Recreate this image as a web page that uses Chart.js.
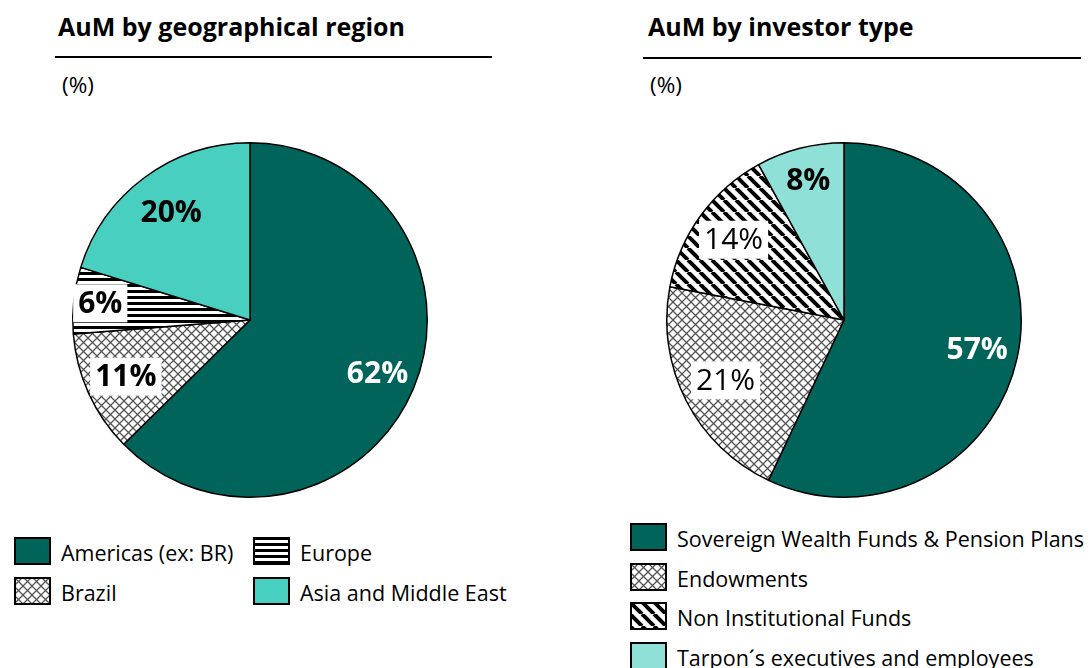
<!DOCTYPE html>
<html><head><meta charset="utf-8">
<script src="https://cdn.jsdelivr.net/npm/chart.js@4.4.0/dist/chart.umd.min.js"></script>
<style>
body{margin:0;width:1091px;height:668px;background:#fff;position:relative;overflow:hidden;font-family:"Open Sans",Lato,sans-serif;color:#000}
.title{position:absolute;font-weight:bold;font-size:25px;line-height:1}
.rule{position:absolute;height:2px;background:#000}
.unit{position:absolute;font-size:22.5px;line-height:1}
.leg{position:absolute;display:flex;align-items:center;font-size:21.5px;white-space:nowrap;line-height:1}
.leg canvas{display:block;margin-right:10px}
.leg span{position:relative;top:2px}
canvas.pie{position:absolute}
</style>
</head><body>
<div class="title" style="left:58px;top:14px">AuM by geographical region</div>
<div class="rule" style="left:55px;top:56px;width:437px"></div>
<div class="unit" style="left:62px;top:74px">(%)</div>

<div class="title" style="left:648px;top:14px">AuM by investor type</div>
<div class="rule" style="left:643px;top:57px;width:438px"></div>
<div class="unit" style="left:650px;top:74px">(%)</div>

<canvas id="c1" class="pie" width="360" height="360" style="left:70px;top:140px"></canvas>
<canvas id="c2" class="pie" width="360" height="360" style="left:664px;top:140px"></canvas>

<div id="legend1"></div>
<div id="legend2"></div>

<script>
// ---- data ----
const regionLabels = ['Americas (ex: BR)', 'Brazil', 'Europe', 'Asia and Middle East'];
const regionValues = [62, 11, 6, 20];
const investorLabels = ['Sovereign Wealth Funds & Pension Plans', 'Endowments', 'Non Institutional Funds', 'Tarpon\u00B4s executives and employees'];
const investorValues = [57, 21, 14, 8];

// ---- styles ----
const DARK = '#00645A';
const TEAL = '#48CFBF';
const LIGHT = '#8FE0D6';

function makePattern(kind) {
  const c = document.createElement('canvas');
  const ctx = c.getContext('2d');
  if (kind === 'cross') {
    c.width = 9; c.height = 9;
    ctx.fillStyle = '#fff'; ctx.fillRect(0, 0, 9, 9);
    ctx.strokeStyle = '#555'; ctx.lineWidth = 1.3;
    ctx.beginPath();
    ctx.moveTo(0, 0); ctx.lineTo(9, 9);
    ctx.moveTo(9, 0); ctx.lineTo(0, 9);
    ctx.stroke();
  } else if (kind === 'hstripe') {
    c.width = 6; c.height = 6;
    ctx.fillStyle = '#fff'; ctx.fillRect(0, 0, 6, 6);
    ctx.fillStyle = '#000'; ctx.fillRect(0, 0, 6, 3);
  } else if (kind === 'dstripe') {
    c.width = 12; c.height = 12;
    ctx.fillStyle = '#fff'; ctx.fillRect(0, 0, 12, 12);
    ctx.strokeStyle = '#000'; ctx.lineWidth = 4;
    ctx.beginPath();
    for (const k of [-12, 0, 12]) { ctx.moveTo(k, 0); ctx.lineTo(k + 12, 12); }
    ctx.stroke();
  }
  return c;
}
function pat(kind, ctx) { return ctx.createPattern(makePattern(kind), 'repeat'); }

const labelPlugin = {
  id: 'sliceLabels',
  afterDatasetsDraw(chart) {
    const ctx = chart.ctx;
    const ds = chart.data.datasets[0];
    const cfg = chart.options.plugins.sliceLabels;
    chart.getDatasetMeta(0).data.forEach((arc, i) => {
      const p = arc.getProps(['x', 'y', 'startAngle', 'endAngle', 'outerRadius'], true);
      const mid = (p.startAngle + p.endAngle) / 2;
      const f = cfg.radius[i];
      const x = p.x + Math.cos(mid) * p.outerRadius * f;
      const y = p.y + Math.sin(mid) * p.outerRadius * f;
      const text = ds.data[i] + '%';
      ctx.save();
      ctx.font = (cfg.bold[i] ? 'bold ' : '') + cfg.size + 'px "Open Sans", Lato, sans-serif';
      ctx.textAlign = 'center';
      ctx.textBaseline = 'middle';
      if (cfg.box[i]) {
        const w = ctx.measureText(text).width + 10;
        ctx.fillStyle = '#fff';
        ctx.fillRect(x - w / 2, y - 19, w, 38);
      }
      ctx.fillStyle = cfg.color[i];
      ctx.fillText(text, x, y + 1);
      ctx.restore();
    });
  }
};

function makePie(id, labels, values, fills, labelCfg) {
  const el = document.getElementById(id);
  const ctx = el.getContext('2d');
  return new Chart(el, {
    type: 'pie',
    data: {
      labels: labels,
      datasets: [{
        data: values,
        backgroundColor: fills.map(f => f.startsWith('#') ? f : pat(f, ctx)),
        borderColor: '#000',
        borderWidth: 1.5
      }]
    },
    options: {
      responsive: false,
      animation: false,
      layout: { padding: 2 },
      plugins: {
        legend: { display: false },
        tooltip: { enabled: false },
        sliceLabels: labelCfg
      }
    },
    plugins: [labelPlugin]
  });
}

const fills1 = [DARK, 'cross', 'hstripe', TEAL];
const fills2 = [DARK, 'cross', 'dstripe', LIGHT];

makePie('c1', regionLabels, regionValues, fills1, {
  size: 30,
  radius: [0.78, 0.77, 0.85, 0.75],
  bold: [true, true, true, true],
  color: ['#fff', '#000', '#000', '#000'],
  box: [false, true, true, false]
});
makePie('c2', investorLabels, investorValues, fills2, {
  size: 30,
  radius: [0.77, 0.75, 0.77, 0.81],
  bold: [true, false, false, true],
  color: ['#fff', '#000', '#000', '#000'],
  box: [false, true, true, false]
});

function swatch(fill) {
  const c = document.createElement('canvas');
  c.width = 37; c.height = 28;
  const ctx = c.getContext('2d');
  ctx.fillStyle = fill.startsWith('#') ? fill : ctx.createPattern(makePattern(fill), 'repeat');
  ctx.fillRect(0, 0, 37, 28);
  ctx.strokeStyle = '#000'; ctx.lineWidth = 2;
  ctx.strokeRect(1, 1, 35, 26);
  return c;
}
function legendItem(parent, label, fill, left, top) {
  const d = document.createElement('div');
  d.className = 'leg';
  d.style.left = left + 'px';
  d.style.top = top + 'px';
  d.appendChild(swatch(fill));
  const s = document.createElement('span');
  s.textContent = label;
  d.appendChild(s);
  parent.appendChild(d);
}
const L1 = document.getElementById('legend1');
const pos1 = [[14, 537], [14, 577], [253, 537], [253, 577]];
regionLabels.forEach((l, i) => legendItem(L1, l, fills1[i], pos1[i][0], pos1[i][1]));
const L2 = document.getElementById('legend2');
investorLabels.forEach((l, i) => legendItem(L2, l, fills2[i], 630, 523 + i * 39.5));
</script>
</body></html>
